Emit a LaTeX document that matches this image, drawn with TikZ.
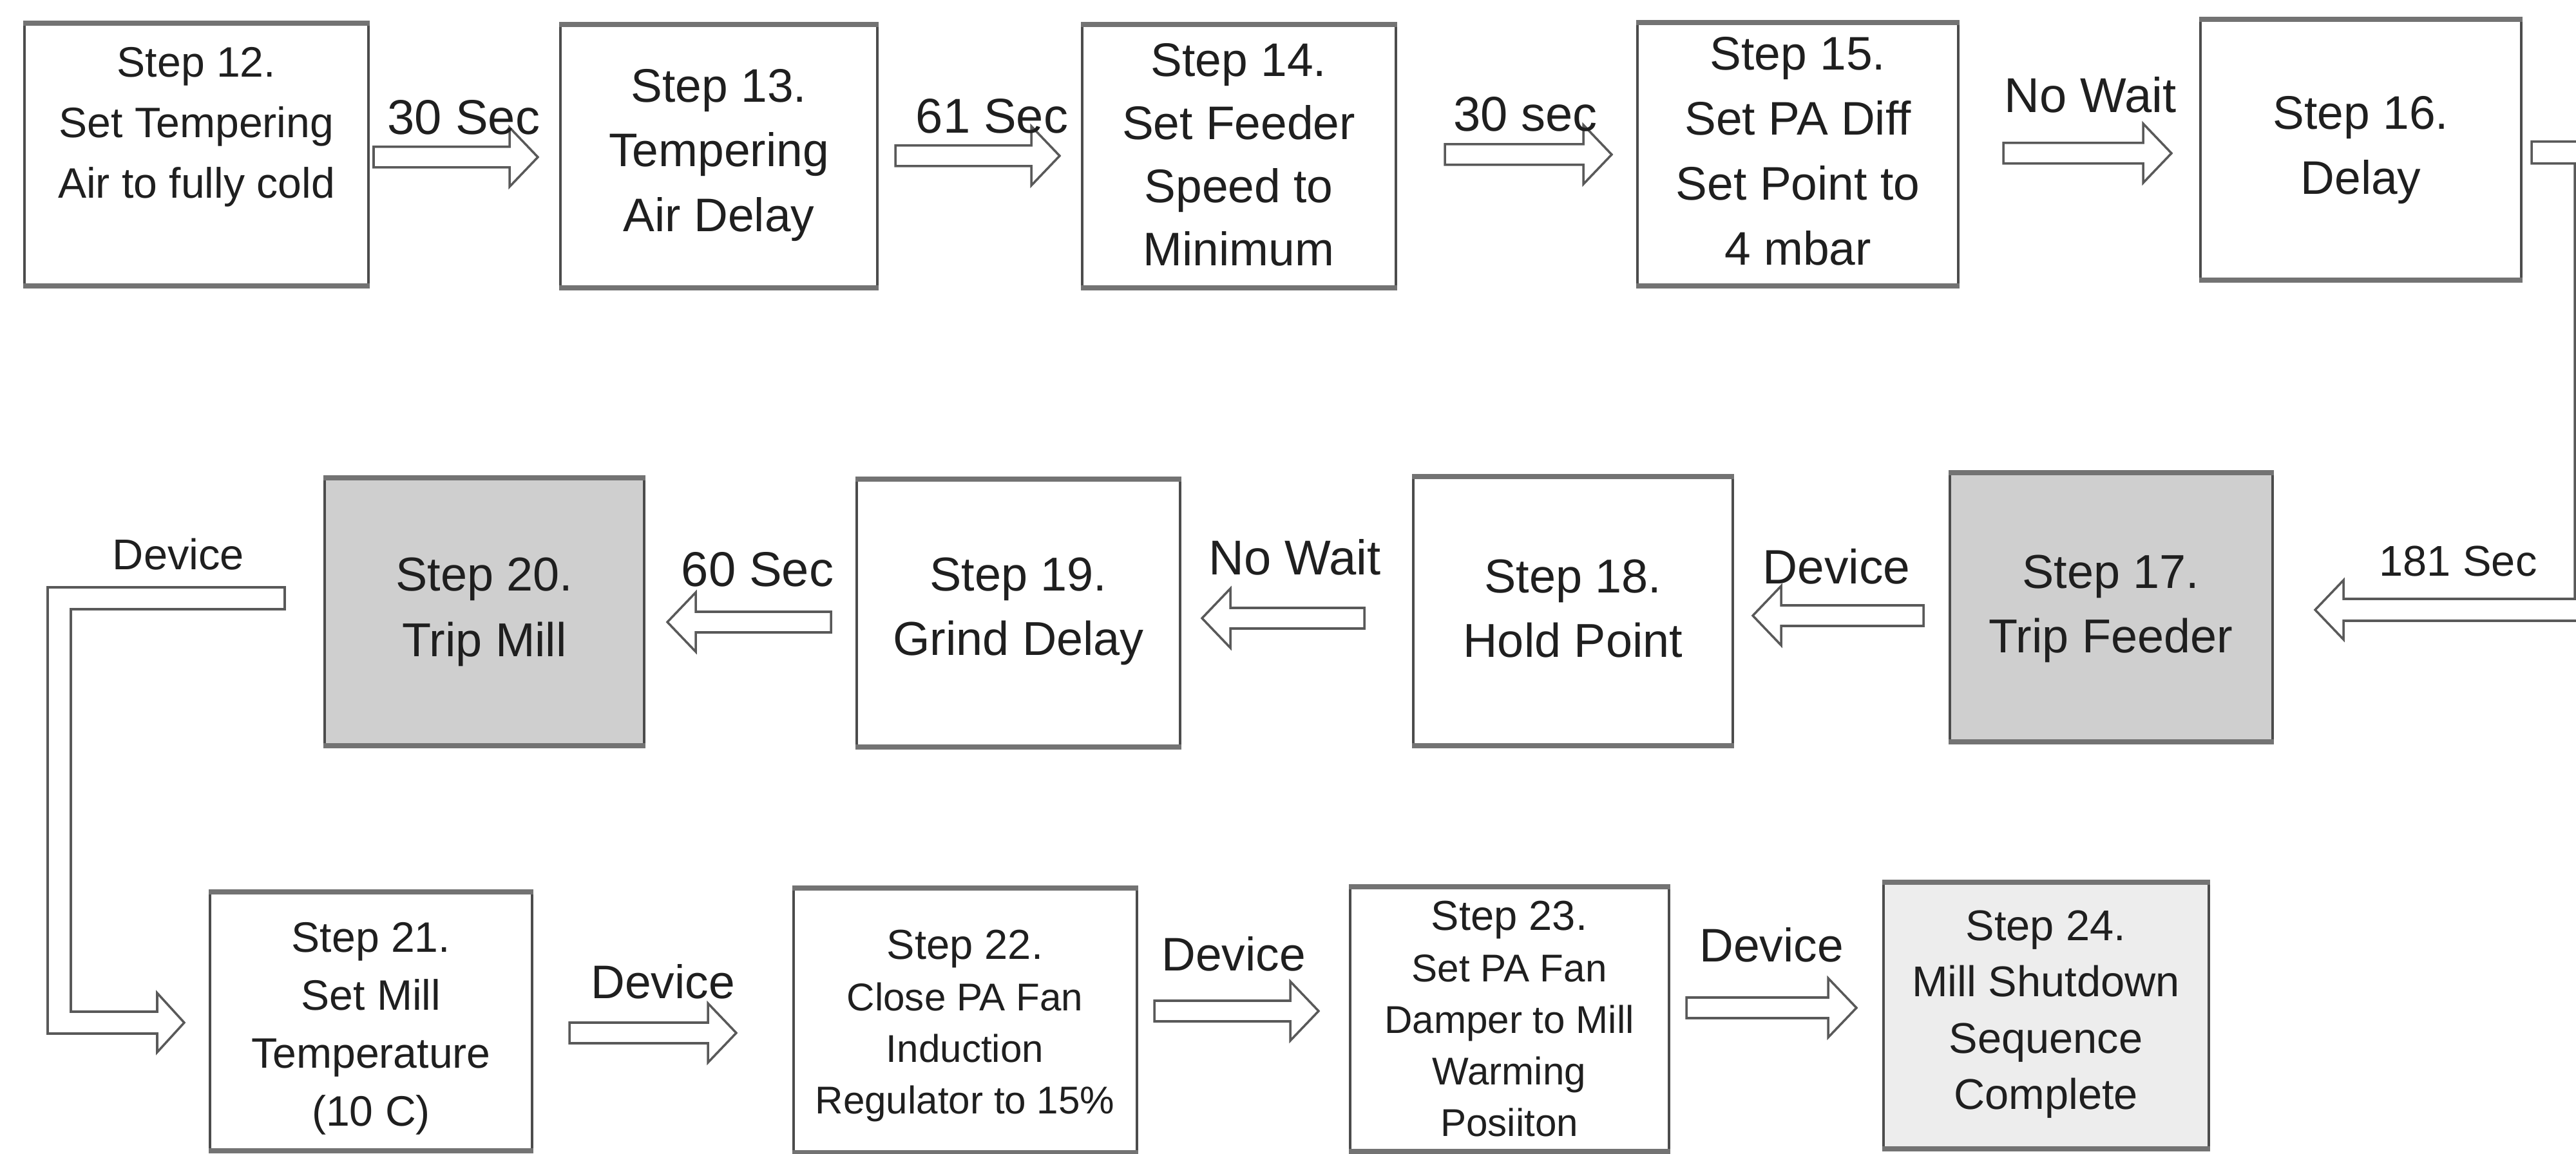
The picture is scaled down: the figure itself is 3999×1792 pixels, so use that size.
\documentclass[tikz,border=0pt]{standalone}
\usepackage{fontspec}
\setmainfont{Liberation Sans}
\usetikzlibrary{calc}
\tikzset{
  box/.style={draw=black!70, line width=1.1pt, fill=white, inner sep=0pt},
  graybox/.style={box, fill=black!19},
  lightbox/.style={box, fill=black!7},
  hedge/.style={draw=black!55, line width=2.2pt},
  txt/.style={align=center, inner sep=0pt, text=black!88},
  lbl/.style={inner sep=0pt, text=black!88},
  blk/.style={draw=black!65, line width=1pt, fill=white, line join=miter},
}
\newcommand\mkbox[6]{%
  \node[#6, minimum width={(#4-#2)*0.01cm}, minimum height={(#5-#3)*0.01cm}] (#1) at ({(#2+#4)/2},{(#3+#5)/2}) {};
  \draw[hedge] (#1.north west) -- (#1.north east) (#1.south west) -- (#1.south east);}
\newcommand\blkR[2]{\draw[blk] ($(#1)+(0,16)$) -- ($(#2)+(-44,16)$) -- ($(#2)+(-44,46)$) -- (#2) -- ($(#2)+(-44,-46)$) -- ($(#2)+(-44,-16)$) -- ($(#1)+(0,-16)$) -- cycle;}
\newcommand\blkL[2]{\draw[blk] ($(#1)+(0,16)$) -- ($(#2)+(44,16)$) -- ($(#2)+(44,46)$) -- (#2) -- ($(#2)+(44,-46)$) -- ($(#2)+(44,-16)$) -- ($(#1)+(0,-16)$) -- cycle;}
\begin{document}
\begin{tikzpicture}[x=0.01cm, y=-0.01cm]
\useasboundingbox (0,0) rectangle (3999,1792);
\fill[white] (0,0) rectangle (3999,1792);

% ---------- boxes ----------
\mkbox{s12}{38}{38}{572}{442}{box}
\mkbox{s13}{870}{40}{1362}{445}{box}
\mkbox{s14}{1680}{40}{2167}{445}{box}
\mkbox{s15}{2542}{37}{3040}{442}{box}
\mkbox{s16}{3416}{32}{3914}{433}{box}
\mkbox{s17}{3027}{736}{3528}{1150}{graybox}
\mkbox{s18}{2194}{742}{2690}{1156}{box}
\mkbox{s19}{1330}{746}{1832}{1158}{box}
\mkbox{s20}{504}{744}{1000}{1156}{graybox}
\mkbox{s21}{326}{1387}{826}{1785}{box}
\mkbox{s22}{1232}{1381}{1765}{1788}{box}
\mkbox{s23}{2096}{1379}{2591}{1786}{box}
\mkbox{s24}{2924}{1372}{3429}{1782}{lightbox}

% ---------- box texts ----------
\node[txt, font=\fontsize{18.8}{26.7}\selectfont] (t12) at (305,197) {Step 12.\\Set Tempering\\Air to fully cold};
\node[txt, font=\fontsize{20.8}{28.7}\selectfont] (t13) at (1116,241) {Step 13.\\Tempering\\Air Delay};
\node[txt, font=\fontsize{20.8}{27.9}\selectfont] (t14) at (1923,240) {Step 14.\\Set Feeder\\Speed to\\Minimum};
\node[txt, font=\fontsize{20.8}{28.7}\selectfont] (t15) at (2791,235) {Step 15.\\Set PA Diff\\Set Point to\\4 mbar};
\node[txt, font=\fontsize{20.8}{28.5}\selectfont] (t16) at (3665,233) {Step 16.\\Delay};
\node[txt, font=\fontsize{21}{28.5}\selectfont] (t17) at (3277,945) {Step 17.\\Trip Feeder};
\node[txt, font=\fontsize{21}{28.5}\selectfont] (t18) at (2442,945) {Step 18.\\Hold Point};
\node[txt, font=\fontsize{21}{28.5}\selectfont] (t19) at (1581,949) {Step 19.\\Grind Delay};
\node[txt, font=\fontsize{21}{29}\selectfont] (t20) at (752,950) {Step 20.\\Trip Mill};
\node[txt, font=\fontsize{18.8}{25.6}\selectfont] (t21) at (576,1597) {Step 21.\\Set Mill\\Temperature\\(10 C)};
\node[txt, font=\fontsize{17.1}{22.8}\selectfont] (t22) at (1498,1593) {{\fontsize{18.5}{24}\selectfont Step 22.}\\Close PA Fan\\Induction\\Regulator to 15\%};
\node[txt, font=\fontsize{17.1}{22.8}\selectfont] (t23) at (2343,1582) {{\fontsize{18.5}{24}\selectfont Step 23.}\\Set PA Fan\\Damper to Mill\\Warming\\Posiiton};
\node[txt, font=\fontsize{19}{24.8}\selectfont] (t24) at (3176,1575) {Step 24.\\Mill Shutdown\\Sequence\\Complete};

% ---------- straight block arrows ----------
\coordinate (a1s) at (580,244);  \coordinate (a1e) at (835,244);
\coordinate (a2s) at (1390,242); \coordinate (a2e) at (1645,242);
\coordinate (a3s) at (2243,240); \coordinate (a3e) at (2502,240);
\coordinate (a4s) at (3110,238); \coordinate (a4e) at (3371,238);
\coordinate (a6s) at (2986,956); \coordinate (a6e) at (2721,956);
\coordinate (a7s) at (2118,960); \coordinate (a7e) at (1866,960);
\coordinate (a8s) at (1290,966); \coordinate (a8e) at (1036,966);
\coordinate (a9s) at (884,1604); \coordinate (a9e) at (1143,1604);
\coordinate (a10s) at (1792,1570); \coordinate (a10e) at (2047,1570);
\coordinate (a11s) at (2618,1565); \coordinate (a11e) at (2882,1565);
\blkR{a1s}{a1e}
\blkR{a2s}{a2e}
\blkR{a3s}{a3e}
\blkR{a4s}{a4e}
\blkL{a6s}{a6e}
\blkL{a7s}{a7e}
\blkL{a8s}{a8e}
\blkR{a9s}{a9e}
\blkR{a10s}{a10e}
\blkR{a11s}{a11e}

% ---------- bent block arrows ----------
\coordinate (r1s) at (3930,237); \coordinate (r1e) at (3594,947);
\draw[blk] ($(r1s)+(0,-17)$) -- (4031,220) -- (4031,964) -- (3638,964) -- (3638,993) -- (r1e)
  -- (3638,901) -- (3638,930) -- (3997,930) -- (3997,254) -- ($(r1s)+(0,17)$) -- cycle;
\coordinate (l1s) at (442,929); \coordinate (l1e) at (286,1588);
\draw[blk] ($(l1s)+(0,-17)$) -- (74,912) -- (74,1605) -- (244,1605) -- (244,1634) -- (l1e)
  -- (244,1542) -- (244,1571) -- (110,1571) -- (110,946) -- ($(l1s)+(0,17)$) -- cycle;

% ---------- labels ----------
\node[lbl, font=\fontsize{21.6}{26}\selectfont] (l1) at (720,182) {30 Sec};
\node[lbl, font=\fontsize{21.6}{26}\selectfont] (l2) at (1540,180) {61 Sec};
\node[lbl, font=\fontsize{21.6}{26}\selectfont] (l3) at (2368,177) {30 sec};
\node[lbl, font=\fontsize{21.6}{26}\selectfont] (l4) at (3245,147) {No Wait};
\node[lbl, font=\fontsize{19}{23}\selectfont] (l5) at (3816,872) {181 Sec};
\node[lbl, font=\fontsize{21.3}{26}\selectfont] (l6) at (2851,880) {Device};
\node[lbl, font=\fontsize{21.6}{26}\selectfont] (l7) at (2010,865) {No Wait};
\node[lbl, font=\fontsize{21.6}{26}\selectfont] (l8) at (1176,884) {60 Sec};
\node[lbl, font=\fontsize{19}{23}\selectfont] (l9) at (277,861) {Device};
\node[lbl, font=\fontsize{20.8}{25}\selectfont] (l10) at (1029,1524) {Device};
\node[lbl, font=\fontsize{20.8}{25}\selectfont] (l11) at (1915,1481) {Device};
\node[lbl, font=\fontsize{20.8}{25}\selectfont] (l12) at (2750,1467) {Device};
\end{tikzpicture}
\end{document}
